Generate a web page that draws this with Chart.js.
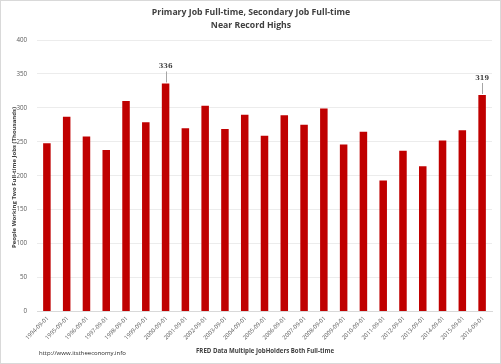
<!DOCTYPE html>
<html>
<head>
<meta charset="utf-8">
<script src="https://cdn.jsdelivr.net/npm/chart.js@4.4.0/dist/chart.umd.min.js"></script>
<style>
  html, body { margin: 0; padding: 0; background: #fff; }
  #wrap { width: 501px; height: 364px; }
</style>
</head>
<body>
<div id="wrap"><canvas id="myChart"></canvas></div>
<script>
const categories = ["1994-09-01", "1995-09-01", "1996-09-01", "1997-09-01", "1998-09-01", "1999-09-01",
  "2000-09-01", "2001-09-01", "2002-09-01", "2003-09-01", "2004-09-01", "2005-09-01", "2006-09-01",
  "2007-09-01", "2008-09-01", "2009-09-01", "2010-09-01", "2011-09-01", "2012-09-01", "2013-09-01",
  "2014-09-01", "2015-09-01", "2016-09-01"];
const jobholders = [248, 287, 258, 238, 310, 279, 336, 270, 303, 269, 290, 259, 289,
  275, 299, 246, 265, 193, 237, 214, 252, 267, 319];
const yTicks = [0, 50, 100, 150, 200, 250, 300, 350, 400];
const calloutIdx = [6, 22];

const titleLines = ["Primary Job Full-time, Secondary Job Full-time", "Near Record Highs"];
const yTitle = "People Working Two Full-time Jobs (Thousands)";
const xTitle = "FRED Data Multiple JobHolders Both Full-time";
const sourceText = "http://www.itstheeconomy.info";

const FONT = '"Open Sans", "Liberation Sans", sans-serif';

const texts = {
  id: 'texts',
  beforeDraw(chart) {
    const ctx = chart.ctx;
    ctx.save();
    ctx.fillStyle = '#fff';
    ctx.fillRect(0, 0, chart.width, chart.height);
    ctx.restore();
  },
  afterDraw(chart) {
    const ctx = chart.ctx;
    const area = chart.chartArea;
    const xs = chart.scales.x;
    ctx.save();
    ctx.strokeStyle = '#d9d9d9';
    ctx.lineWidth = 1;
    ctx.strokeRect(0.5, 0.5, chart.width - 1, chart.height - 1);

    // category labels, rotated 45 degrees
    ctx.fillStyle = '#595959';
    ctx.font = '5.8px ' + FONT;
    ctx.textAlign = 'right';
    ctx.textBaseline = 'middle';
    categories.forEach((c, i) => {
      ctx.save();
      ctx.translate(xs.getPixelForValue(i) + 1, area.bottom + 6);
      ctx.rotate(-Math.PI / 4);
      ctx.fillText(c, 0, 0);
      ctx.restore();
    });

    ctx.fillStyle = '#404040';
    ctx.textAlign = 'center';
    ctx.textBaseline = 'alphabetic';
    ctx.font = 'bold 8.7px ' + FONT;
    ctx.fillText(titleLines[0], 251, 15);
    ctx.fillText(titleLines[1], 251, 28);

    ctx.font = 'bold 6.1px ' + FONT;
    ctx.fillText(xTitle, 265, 353);

    ctx.save();
    ctx.translate(16, 177.5);
    ctx.rotate(-Math.PI / 2);
    ctx.font = 'bold 6px ' + FONT;
    ctx.fillText(yTitle, 0, 0);
    ctx.restore();

    ctx.textAlign = 'left';
    ctx.fillStyle = '#262626';
    ctx.font = '6px ' + FONT;
    ctx.fillText(sourceText, 39, 355);

    const meta = chart.getDatasetMeta(0);
    ctx.textAlign = 'center';
    ctx.fillStyle = '#404040';
    ctx.font = 'bold 6.6px "DejaVu Serif", serif';
    calloutIdx.forEach(i => {
      const bar = meta.data[i];
      ctx.strokeStyle = '#a6a6a6';
      ctx.beginPath();
      ctx.moveTo(Math.round(bar.x) + 0.5, bar.y - 1);
      ctx.lineTo(Math.round(bar.x) + 0.5, bar.y - 12);
      ctx.stroke();
      ctx.fillText(String(jobholders[i]), bar.x, bar.y - 15);
    });
    ctx.restore();
  }
};

new Chart(document.getElementById('myChart'), {
  type: 'bar',
  data: {
    labels: categories,
    datasets: [{
      data: jobholders,
      backgroundColor: '#c00000',
      borderWidth: 0,
      categoryPercentage: 1,
      barPercentage: 0.38
    }]
  },
  options: {
    responsive: true,
    maintainAspectRatio: false,
    animation: false,
    events: [],
    layout: { padding: { top: 40, right: 9, left: 0, bottom: 0 } },
    plugins: { legend: { display: false }, title: { display: false }, tooltip: { enabled: false } },
    scales: {
      x: {
        grid: { display: false, drawTicks: false },
        border: { color: '#d9d9d9' },
        ticks: { display: false },
        afterFit(scale) { scale.height = 52.5; }
      },
      y: {
        min: 0,
        max: 400,
        afterBuildTicks(scale) { scale.ticks = yTicks.map(v => ({ value: v })); },
        grid: { color: '#ececec', drawTicks: false },
        border: { display: false },
        ticks: {
          color: '#595959',
          font: { family: FONT, size: 6.2 },
          padding: 10
        },
        afterFit(scale) { scale.width = 37; }
      }
    }
  },
  plugins: [texts]
});
</script>
</body>
</html>
